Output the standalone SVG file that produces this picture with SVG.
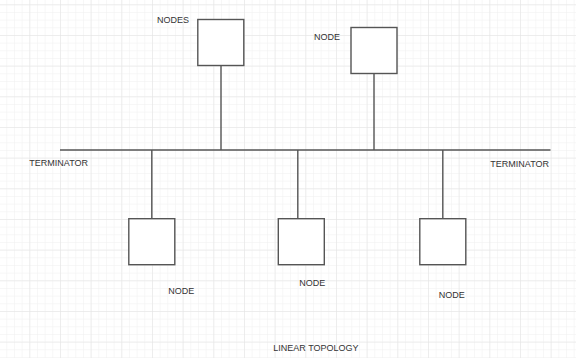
<svg xmlns="http://www.w3.org/2000/svg" width="576" height="358" viewBox="0 0 576 358">
<defs>
<pattern id="minor" x="6.3" y="4.3" width="7.667" height="7.667" patternUnits="userSpaceOnUse">
<path d="M0 0V7.667M0 0H7.667" fill="none" stroke="#f0f0f0" stroke-width="1"/>
</pattern>
<pattern id="major" x="29.3" y="4.3" width="30.667" height="30.667" patternUnits="userSpaceOnUse">
<path d="M0 0V30.667M0 0H30.667" fill="none" stroke="#e4e4e4" stroke-width="1"/>
</pattern>
</defs>
<style>
.box{fill:#fff;stroke:#555;stroke-width:1.4}
.ln{fill:none;stroke:#555;stroke-width:1.4}
text{font-family:"Liberation Sans",Arial,sans-serif;font-size:9px;fill:#333}
</style>
<rect width="576" height="358" fill="#fff"/>
<rect width="576" height="358" fill="url(#minor)"/>
<rect width="576" height="358" fill="url(#major)"/>
<g id="connectors">
<line class="ln" x1="60" y1="150" x2="550.5" y2="150"/>
<line class="ln" x1="221" y1="66" x2="221" y2="150"/>
<line class="ln" x1="374" y1="73.5" x2="374" y2="150"/>
<line class="ln" x1="151.8" y1="150" x2="151.8" y2="218.7"/>
<line class="ln" x1="297.8" y1="150" x2="297.8" y2="218.7"/>
<line class="ln" x1="442.8" y1="150" x2="442.8" y2="218.7"/>
</g>
<g id="node-top-left">
<rect class="box" x="197.8" y="19.5" width="46" height="46"/>
<text x="157" y="23.3">NODES</text>
</g>
<g id="node-top-right">
<rect class="box" x="351" y="27.5" width="46" height="46"/>
<text x="314" y="40">NODE</text>
</g>
<g id="node-bottom-1">
<rect class="box" x="128.8" y="218.7" width="46" height="46"/>
<text x="168.3" y="293.6">NODE</text>
</g>
<g id="node-bottom-2">
<rect class="box" x="278.3" y="218.7" width="46" height="46"/>
<text x="299.3" y="286.3">NODE</text>
</g>
<g id="node-bottom-3">
<rect class="box" x="419.8" y="218.7" width="46" height="46"/>
<text x="438.7" y="298">NODE</text>
</g>
<g id="terminator-left"><text x="29.3" y="165.6">TERMINATOR</text></g>
<g id="terminator-right"><text x="490.3" y="167.3">TERMINATOR</text></g>
<g id="title"><text x="273.3" y="350.6">LINEAR TOPOLOGY</text></g>
</svg>
